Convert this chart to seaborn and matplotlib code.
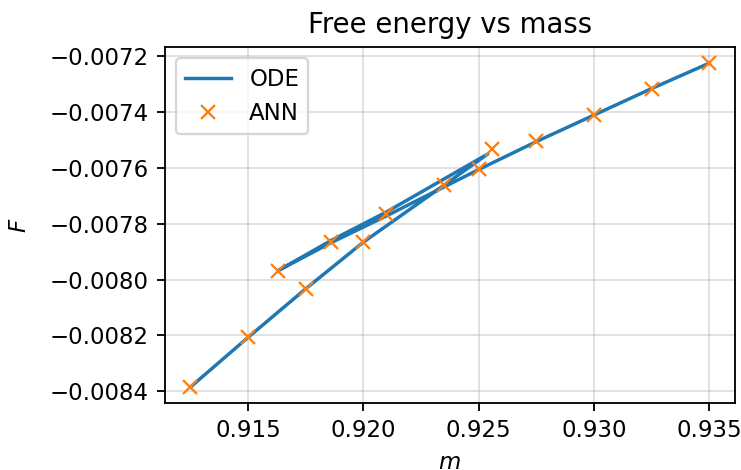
import numpy as np
import pandas as pd
import matplotlib
matplotlib.use("Agg")
import matplotlib.pyplot as plt
import seaborn as sns

# ODE curve (swallowtail: lower branch -> right cusp -> left cusp -> upper branch)
ode_m = [0.9125, 0.915, 0.9175, 0.920, 0.9235, 0.9254,
         0.921, 0.9186, 0.9163,
         0.9186, 0.921, 0.925, 0.9275, 0.930, 0.9325, 0.935]
ode_F = [-0.008385, -0.008207, -0.008033, -0.007866, -0.007662, -0.00755,
         -0.007758, -0.00786, -0.007968,
         -0.007868, -0.007772, -0.007606, -0.007506, -0.007411, -0.007316, -0.007225]

# ANN predictions
ann_m = [0.9125, 0.915, 0.9163, 0.9175, 0.9186, 0.920, 0.921,
         0.9235, 0.925, 0.9256, 0.9275, 0.930, 0.9325, 0.935]
ann_F = [-0.008385, -0.008207, -0.007968, -0.008033, -0.007864, -0.007866, -0.007765,
         -0.007662, -0.007604, -0.007531, -0.007504, -0.007411, -0.007316, -0.007225]

df_ode = pd.DataFrame({"m": ode_m, "F": ode_F})
df_ann = pd.DataFrame({"m": ann_m, "F": ann_F})

dpi = 165
fig, ax = plt.subplots(figsize=(741 / dpi, 470 / dpi), dpi=dpi)
fig.subplots_adjust(left=0.222, right=0.992, bottom=0.142, top=0.9)

sns.lineplot(data=df_ode, x="m", y="F", sort=False, estimator=None,
             color="C0", linewidth=1.5, label="ODE", ax=ax)
ax.plot(df_ann["m"], df_ann["F"], "x", color="C1", label="ANN")

ax.grid(True, color="#b0b0b0", alpha=0.4)
ax.set_axisbelow(True)
ax.set_xticks([0.915, 0.920, 0.925, 0.930, 0.935])
ax.set_yticks(np.arange(-0.0084, -0.00719, 0.0002))
ax.set_xlabel("$m$")
ax.set_ylabel("$F$", labelpad=8)
ax.set_title("Free energy vs mass")
ax.legend(loc="upper left")

fig.savefig("out.png", dpi=dpi)
